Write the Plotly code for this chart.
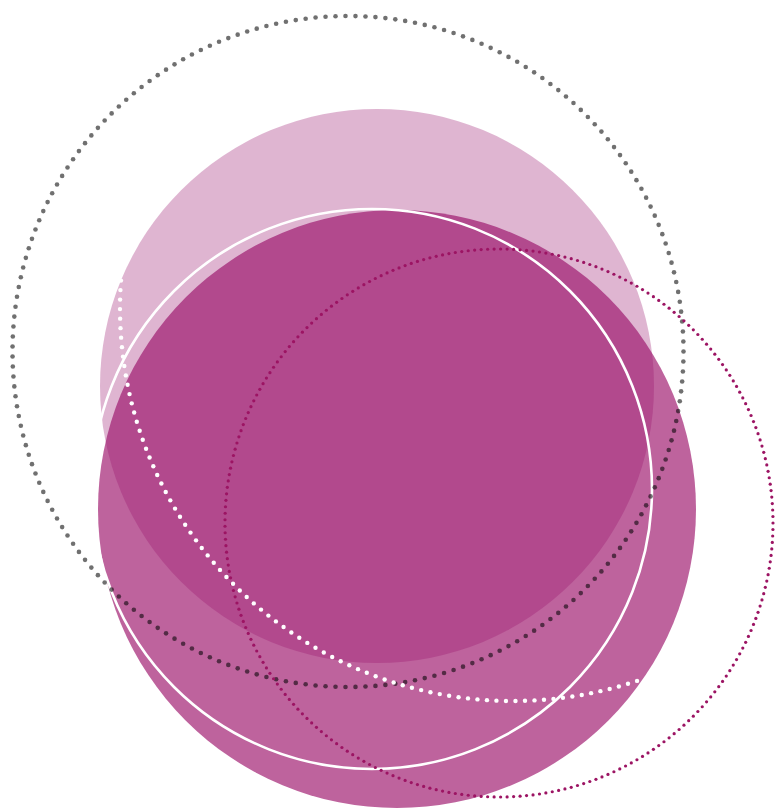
import numpy as np
import plotly.graph_objects as go

# Circle geometry (pixel-space data units, y measured downward)
fill_names = ["light_disc", "deep_disc"]
fill_cx = [377, 397]
fill_cy = [386, 509]
fill_r = [277, 299]
fill_colors = ["rgba(152,16,106,0.31)", "#be639d"]

ring_cx = [372]
ring_cy = [489]
ring_r = [280]

dotted_names = ["grey", "magenta", "white_arc"]
dotted_cx = [348, 499, 513]
dotted_cy = [351.5, 523, 308]
dotted_r = [335.5, 274, 393]
dotted_start_deg = [0, 0, 71.6]
dotted_end_deg = [360, 360, 184]
dotted_count = [211, 265, 82]
dotted_size = [4.6, 3.2, 4.4]
dotted_color = ["rgba(0,0,0,0.56)", "#9c1463", "#ffffff"]

fig = go.Figure()

shapes = []
# deep disc first, then translucent light disc on top
for i in [1, 0]:
    shapes.append(dict(type="circle", xref="x", yref="y", layer="below",
                       x0=fill_cx[i] - fill_r[i], x1=fill_cx[i] + fill_r[i],
                       y0=fill_cy[i] - fill_r[i], y1=fill_cy[i] + fill_r[i],
                       fillcolor=fill_colors[i], line=dict(width=0)))
for cx, cy, r in zip(ring_cx, ring_cy, ring_r):
    shapes.append(dict(type="circle", xref="x", yref="y", layer="below",
                       x0=cx - r, x1=cx + r, y0=cy - r, y1=cy + r,
                       fillcolor="rgba(0,0,0,0)", line=dict(color="white", width=2.6)))

for k in range(len(dotted_names)):
    full = (dotted_end_deg[k] - dotted_start_deg[k]) >= 360
    th = np.deg2rad(np.linspace(dotted_start_deg[k], dotted_end_deg[k], dotted_count[k],
                                endpoint=not full))
    xs = dotted_cx[k] + dotted_r[k] * np.cos(th)
    ys = dotted_cy[k] + dotted_r[k] * np.sin(th)
    fig.add_trace(go.Scatter(x=xs, y=ys, mode="markers", name=dotted_names[k],
                             marker=dict(size=dotted_size[k], color=dotted_color[k],
                                         line=dict(width=0)),
                             hoverinfo="skip", showlegend=False))

fig.update_layout(
    width=775, height=808,
    margin=dict(l=0, r=0, t=0, b=0),
    paper_bgcolor="white", plot_bgcolor="white",
    shapes=shapes,
    xaxis=dict(range=[0, 775], visible=False, fixedrange=True),
    yaxis=dict(range=[808, 0], visible=False, fixedrange=True),
    showlegend=False,
)

fig.write_html("out.html", config={"displayModeBar": False})

# remove the default page margin so the figure sits at the window origin
with open("out.html", "r", encoding="utf-8") as f:
    html = f.read()
html = html.replace("<head>", "<head><style>html,body{margin:0;padding:0;overflow:hidden;}</style>", 1)
with open("out.html", "w", encoding="utf-8") as f:
    f.write(html)
